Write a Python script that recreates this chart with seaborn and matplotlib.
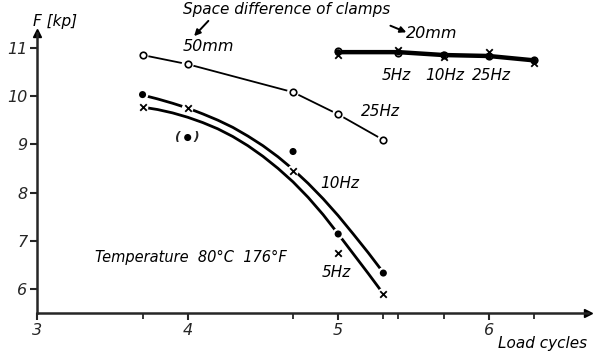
import matplotlib
matplotlib.use("Agg")
import matplotlib.pyplot as plt
import seaborn as sns
import pandas as pd

# Measured points, 50 mm clamp spacing
cycles = [3.7, 4.0, 4.7, 5.0, 5.3]
f_25hz = [10.85, 10.66, 10.08, 9.62, 9.09]
f_10hz = [10.03, 9.14, 8.85, 7.14, 6.33]
f_5hz = [9.77, 9.75, 8.45, 6.75, 5.90]

# Smoothed curves drawn through the 10 Hz and 5 Hz measurements
curve_x = [3.7, 3.8, 3.9, 4.0, 4.1, 4.2, 4.3, 4.4, 4.5,
           4.6, 4.7, 4.8, 4.9, 5.0, 5.1, 5.2, 5.3]
curve_10hz = [10.02, 9.94, 9.85, 9.75, 9.63, 9.50, 9.35, 9.17, 8.97,
              8.74, 8.48, 8.19, 7.87, 7.52, 7.14, 6.75, 6.34]
curve_5hz = [9.77, 9.72, 9.65, 9.56, 9.45, 9.32, 9.16, 8.97, 8.75,
             8.50, 8.22, 7.90, 7.54, 7.14, 6.73, 6.32, 5.90]

# Measured points, 20 mm clamp spacing
cycles_20 = [5.0, 5.4, 5.7, 6.0, 6.3]
f20_25hz = [10.93, 10.90, 10.86, 10.83, 10.75]
f20_10hz = [10.90, 10.91, 10.85, 10.82, 10.73]
f20_5hz = [10.86, 10.96, 10.80, 10.91, 10.68]
line20 = [10.91, 10.91, 10.85, 10.83, 10.74]

x_major = [3, 4, 5, 6]
x_minor = [3.7, 4.7, 5.3, 5.4, 5.7, 6.3]
y_major = [6, 7, 8, 9, 10, 11]

sns.set_style("ticks")
plt.rcParams["font.family"] = ["DejaVu Sans"]
plt.rcParams["font.style"] = "italic"

fig = plt.figure(figsize=(6.0, 3.57), dpi=100)
ax = fig.add_axes([0.062, 0.123, 0.918, 0.785])

ink = "black"

# 25 Hz / 50 mm: open circles with a small gap around each marker
df25 = pd.DataFrame({"x": cycles, "y": f_25hz})
sns.lineplot(data=df25, x="x", y="y", ax=ax, color=ink, lw=1.3, zorder=2)
sns.scatterplot(data=df25, x="x", y="y", ax=ax, s=75, color="white",
                edgecolor="none", zorder=3)
sns.scatterplot(data=df25, x="x", y="y", ax=ax, s=22, facecolor="white",
                edgecolor=ink, linewidth=1.2, zorder=4)

# 10 Hz and 5 Hz curves
dfc = pd.DataFrame({"x": curve_x + curve_x,
                    "y": curve_10hz + curve_5hz,
                    "f": ["10"] * len(curve_x) + ["5"] * len(curve_x)})
sns.lineplot(data=dfc, x="x", y="y", units="f", estimator=None, ax=ax,
             color=ink, lw=2.0, zorder=2)

df10 = pd.DataFrame({"x": cycles, "y": f_10hz})
df5 = pd.DataFrame({"x": cycles, "y": f_5hz})
sns.scatterplot(data=df10, x="x", y="y", ax=ax, s=70, color="white",
                edgecolor="none", zorder=3)
sns.scatterplot(data=df10, x="x", y="y", ax=ax, s=26, color=ink,
                edgecolor="none", zorder=4)
sns.scatterplot(data=df5, x="x", y="y", ax=ax, s=70, color="white",
                edgecolor="none", zorder=3)
sns.scatterplot(data=df5, x="x", y="y", ax=ax, s=22, marker="x", color=ink,
                linewidth=1.3, zorder=4)
ax.text(cycles[1], f_10hz[1], "(   )", ha="center", va="center",
        fontsize=9, fontweight="bold", zorder=5)

# 20 mm spacing: heavy line with overlapping markers
df20 = pd.DataFrame({"x": cycles_20, "y": line20})
sns.lineplot(data=df20, x="x", y="y", ax=ax, color=ink, lw=3.2, zorder=2)
sns.scatterplot(x=cycles_20, y=f20_25hz, ax=ax, s=22, facecolor="white",
                edgecolor=ink, linewidth=1.2, zorder=4)
sns.scatterplot(x=cycles_20, y=f20_10hz, ax=ax, s=24, color=ink,
                edgecolor="none", zorder=4)
sns.scatterplot(x=cycles_20, y=f20_5hz, ax=ax, s=22, marker="x", color=ink,
                linewidth=1.3, zorder=4)

# Axes
ax.set_xlim(3, 6.66)
ax.set_ylim(5.5, 11.31)
sns.despine(ax=ax)
for side in ("left", "bottom"):
    ax.spines[side].set_linewidth(1.8)
ax.set_xticks(x_major)
ax.set_xticks(x_minor, minor=True)
ax.set_yticks(y_major)
ax.set_xticklabels([str(v) for v in x_major])
ax.set_yticklabels([str(v) for v in y_major])
ax.tick_params(axis="both", which="major", direction="out", length=5,
               width=1.5, labelsize=11.5, pad=2)
ax.tick_params(axis="x", which="minor", direction="out", length=4, width=1.3)
ax.set_xlabel("")
ax.set_ylabel("")
for lab in ax.get_xticklabels() + ax.get_yticklabels():
    lab.set_fontstyle("italic")

# Arrow heads on the axes
ax.plot(1, 0, ">", color=ink, ms=6, transform=ax.transAxes, clip_on=False)
ax.plot(0, 1, "^", color=ink, ms=6, transform=ax.transAxes, clip_on=False)

txt = dict(color=ink, fontstyle="italic", clip_on=False)
ax.text(3.12, 11.54, "F [kp]", ha="center", va="center", fontsize=11, **txt)
ax.text(6.36, 4.86, "Load cycles", ha="center", va="center", fontsize=11, **txt)
ax.text(4.655, 11.79, "Space difference of clamps", ha="center", va="center",
        fontsize=11, **txt)
ax.text(4.14, 11.02, "50mm", ha="center", va="center", fontsize=11.5, **txt)
ax.text(5.62, 11.29, "20mm", ha="center", va="center", fontsize=11.5, **txt)
ax.annotate("", xy=(4.03, 11.2), xytext=(4.15, 11.6),
            arrowprops=dict(arrowstyle="-|>", color=ink, lw=1.4,
                            mutation_scale=9), annotation_clip=False)
ax.annotate("", xy=(5.47, 11.30), xytext=(5.33, 11.48),
            arrowprops=dict(arrowstyle="-|>", color=ink, lw=1.4,
                            mutation_scale=9), annotation_clip=False)

ax.text(5.385, 10.42, "5Hz", ha="center", va="center", fontsize=11, **txt)
ax.text(5.71, 10.42, "10Hz", ha="center", va="center", fontsize=11, **txt)
ax.text(6.02, 10.42, "25Hz", ha="center", va="center", fontsize=11, **txt)
ax.text(5.28, 9.67, "25Hz", ha="center", va="center", fontsize=11, **txt)
ax.text(5.01, 8.18, "10Hz", ha="center", va="center", fontsize=11, **txt)
ax.text(4.99, 6.35, "5Hz", ha="center", va="center", fontsize=11, **txt)
ax.text(3.385, 6.66, "Temperature  80°C  176°F", ha="left", va="center",
        fontsize=10.5, **txt)

fig.savefig("out.png", dpi=100)
